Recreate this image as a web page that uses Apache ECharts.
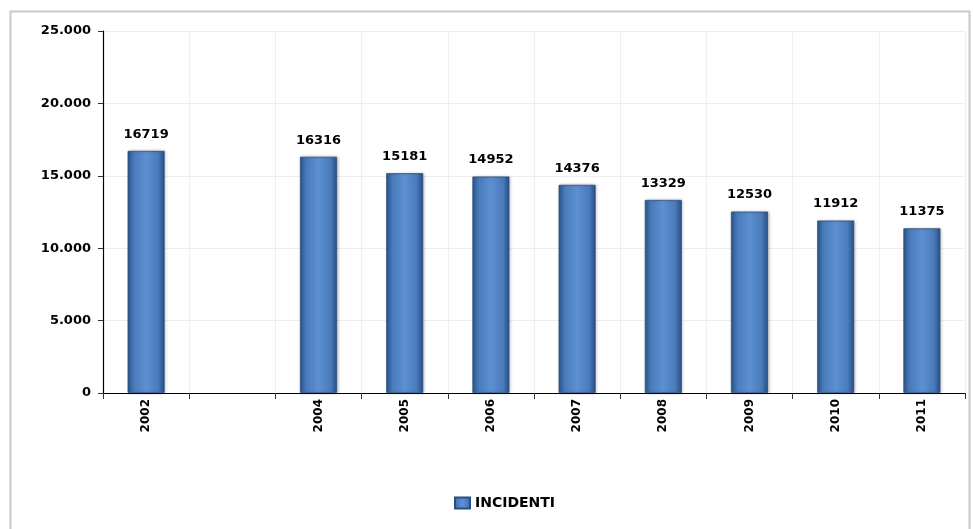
<!DOCTYPE html>
<html>
<head>
<meta charset="utf-8">
<script src="https://cdn.jsdelivr.net/npm/echarts@6/dist/echarts.min.js"></script>
<style>
  html, body { margin: 0; padding: 0; background: #fff; }
  #chart { width: 973px; height: 529px; }
</style>
</head>
<body>
<div id="chart"></div>
<script>
// Yearly incident counts (one year without data)
const years = ['2002', '', '2004', '2005', '2006', '2007', '2008', '2009', '2010', '2011'];
const incidenti = [16719, null, 16316, 15181, 14952, 14376, 13329, 12530, 11912, 11375];
const seriesName = 'INCIDENTI';

const fmtThousands = v => String(v).replace(/\B(?=(\d{3})+(?!\d))/g, '.');

const barFill = new echarts.graphic.LinearGradient(0, 0, 1, 0, [
  { offset: 0, color: '#2c5890' },
  { offset: 0.18, color: '#4a7cbc' },
  { offset: 0.5, color: '#5d90d2' },
  { offset: 0.82, color: '#4a7cbc' },
  { offset: 1, color: '#284f85' }
]);

const chart = echarts.init(document.getElementById('chart'), null, { renderer: 'canvas' });
chart.setOption({
  animation: false,
  backgroundColor: '#fff',
  textStyle: { fontFamily: 'DejaVu Sans' },
  graphic: [{
    type: 'rect',
    left: 8, top: 9,
    shape: { width: 959, height: 540 },
    style: { fill: 'none', stroke: '#c8c8c8', lineWidth: 2 },
    silent: true
  }],
  grid: { left: 103, right: 8, top: 31, bottom: 136, containLabel: false },
  legend: {
    top: 491, left: 449, padding: 5,
    itemWidth: 15, itemHeight: 11, itemGap: 4,
    icon: 'rect',
    textStyle: { fontWeight: 'bold', fontSize: 14, color: '#000', fontFamily: 'DejaVu Sans' },
    data: [seriesName]
  },
  xAxis: {
    type: 'category',
    data: years,
    axisLine: { lineStyle: { color: '#000', width: 1.2 } },
    axisTick: { show: true, length: 6, alignWithLabel: false, lineStyle: { color: '#333' } },
    axisLabel: {
      rotate: 90, interval: 0, margin: 6,
      fontWeight: 'bold', fontSize: 12, color: '#000', fontFamily: 'DejaVu Sans'
    },
    splitLine: { show: true, lineStyle: { color: '#eeeeee', width: 1 } }
  },
  yAxis: {
    type: 'value',
    min: 0, max: 25000, interval: 5000,
    axisLine: { show: true, lineStyle: { color: '#000', width: 1.2 } },
    axisTick: { show: true, length: 5, lineStyle: { color: '#333' } },
    axisLabel: {
      margin: 12,
      fontWeight: 'bold', fontSize: 13, color: '#000', fontFamily: 'DejaVu Sans',
      formatter: v => fmtThousands(v)
    },
    splitLine: { show: true, lineStyle: { color: '#eeeeee', width: 1 } }
  },
  series: [{
    name: seriesName,
    type: 'bar',
    data: incidenti,
    barWidth: 37,
    itemStyle: {
      color: barFill,
      borderColor: '#2b4f80',
      borderWidth: 0.8,
      shadowColor: 'rgba(0,0,0,0.25)',
      shadowBlur: 3,
      shadowOffsetX: 1
    },
    label: {
      show: true, position: 'top', distance: 10,
      fontWeight: 'bold', fontSize: 13, color: '#000', fontFamily: 'DejaVu Sans'
    }
  }]
});
</script>
</body>
</html>
